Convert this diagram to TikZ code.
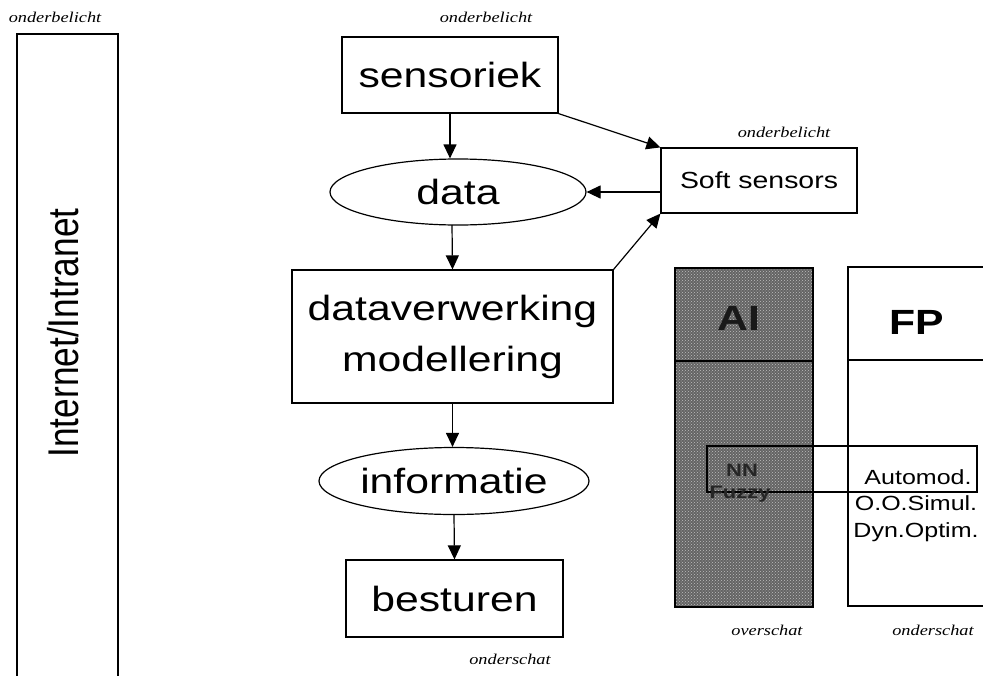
\documentclass[tikz,border=0pt]{standalone}
\usepackage{fontspec}
\setmainfont{Liberation Sans}[FakeStretch=1.22]
\newfontfamily\lblfont{Liberation Serif}[FakeStretch=1.22]
\newfontfamily\vertfont{Liberation Sans}[FakeStretch=0.82]
\usetikzlibrary{arrows.meta,shapes.geometric,patterns}
\definecolor{stip}{RGB}{100,100,100}
\tikzset{
  box/.style={draw, line width=1.2pt, inner sep=0pt, font=\fontsize{35}{51}\selectfont, align=center},
  oval/.style={draw, ellipse, line width=1.2pt, inner sep=0pt, font=\fontsize{35}{42}\selectfont},
  arr/.style={line width=1.2pt, -{Triangle[length=14pt,width=13pt]}},
  lbl/.style={font=\lblfont\itshape\fontsize{15}{16}\selectfont, inner sep=0pt},
  thin/.style={line width=1.2pt},
  bigb/.style={font=\bfseries\fontsize{35}{40}\selectfont, inner sep=0pt},
  small/.style={font=\fontsize{20.5}{24}\selectfont, inner sep=0pt},
}
\begin{document}
\begin{tikzpicture}[x=1pt, y=-1pt]
\useasboundingbox[fill=white] (0,0) rectangle (983,675);
% left column
\draw[thin] (17,680) -- (17,34) -- (118,34) -- (118,680);
\node[lbl] (lblL) at (55,17) {onderbelicht};
\node[rotate=90, inner sep=0pt, font=\vertfont\fontsize{43}{44}\selectfont] (inet) at (63,333) {Internet/Intranet};
% flow
\node[lbl] (lblS) at (486,17) {onderbelicht};
\node[box, minimum width=216pt, minimum height=76pt] (sens) at (450,75) {sensoriek};
\node[oval, minimum width=256pt, minimum height=66pt] (data) at (458,192) {data};
\node[box, minimum width=321pt, minimum height=133pt] (dv) at (452.5,336.5) {dataverwerking\\modellering};
\node[oval, minimum width=270pt, minimum height=67pt] (info) at (454,481) {informatie};
\node[box, minimum width=217pt, minimum height=77pt] (best) at (454.5,598.5) {besturen};
\node[lbl] (lblB) at (510,659) {onderschat};
\node[box, minimum width=196pt, minimum height=65pt, font=\fontsize{23.3}{26}\selectfont] (soft) at (759,180.5) {Soft sensors};
\node[lbl] (lblSo) at (784,132) {onderbelicht};
\draw[arr] (sens.south) -- (sens.south |- data.north);
\draw[arr] (sens.south east) -- (soft.north west);
\draw[arr] (soft.west |- data.east) -- (data.east);
\draw[arr] (452,225) -- (dv.north);
\draw[arr] (dv.north east) -- (soft.south west);
\draw[arr] (dv.south) -- (dv.south |- info.north);
\draw[arr] (info.south) -- (best.north);
% AI block
\fill[stip] (675,268) rectangle (813,607);
\fill[pattern=crosshatch dots, pattern color=white!75!black] (675,268) rectangle (813,607);
\draw[thin] (675,268) rectangle (813,607);
\draw[thin] (675,361) -- (813,361);
\node[bigb, text=black!90] (ai) at (739,318) {AI};
% FP block
\draw[thin] (990,267) -- (848,267) -- (848,606) -- (990,606);
\draw[thin] (848,360) -- (990,360);
\node[bigb] (fp) at (917,322) {FP};
% overlapping rectangle
\draw[thin] (707,446) rectangle (977,492);
\node[inner sep=0pt, font=\bfseries\fontsize{18}{20}\selectfont, text=black!85] (nn) at (742,470) {NN};
\node[inner sep=0pt, font=\bfseries\fontsize{18}{20}\selectfont, text=black!85] (fz) at (740,494) {Fuzzy};
\node[small] (am) at (918,477) {Automod.};
\node[small] (oo) at (916,503) {O.O.Simul.};
\node[small] (dy) at (916,532) {Dyn.Optim.};
\node[lbl] (lblO) at (767,630) {overschat};
\node[lbl] (lblF) at (933,630) {onderschat};
\end{tikzpicture}
\end{document}
